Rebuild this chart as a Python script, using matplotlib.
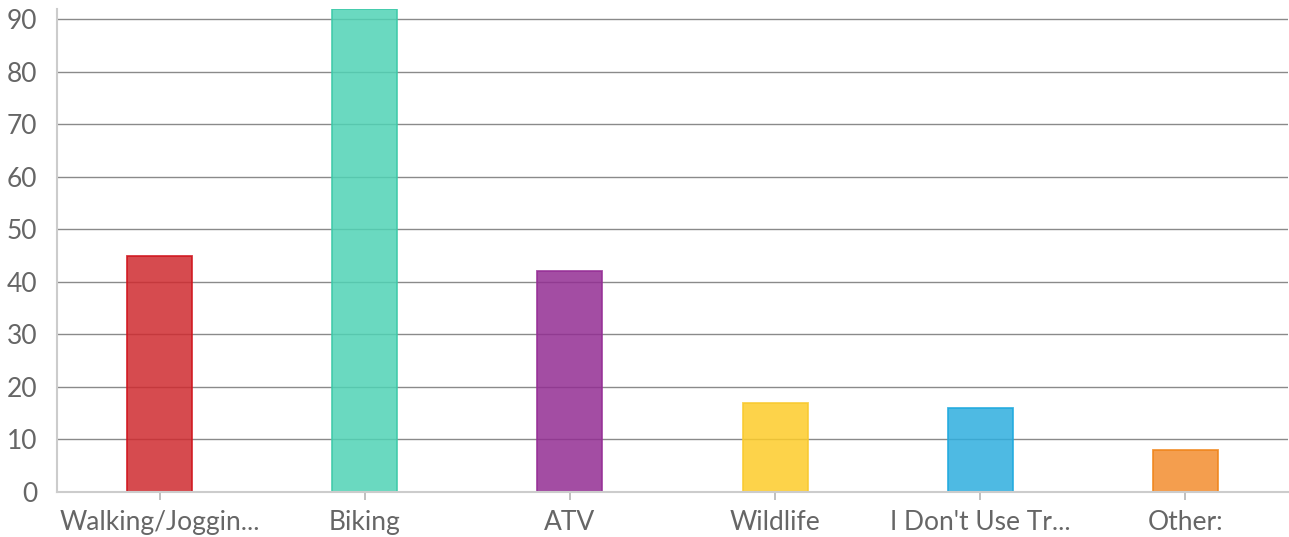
import matplotlib.pyplot as plt
import numpy as np

categories = ["Walking/Joggin...", "Biking", "ATV", "Wildlife", "I Don't Use Tr...", "Other:"]
counts = [45, 92, 42, 17, 16, 8]
yticks = [0, 10, 20, 30, 40, 50, 60, 70, 80, 90]

# fill / outline pairs per bar
fills = ["#cf2b30", "#50d3b5", "#932e93", "#fdcc2a", "#2faede", "#f38d2f"]
edges = ["#d0121b", "#3cc9a8", "#952d95", "#f9c92e", "#1da9de", "#f08418"]

plt.rcParams["font.family"] = ["Lato", "DejaVu Sans"]

fig = plt.figure(figsize=(12.89, 5.37), dpi=100)
ax = fig.add_axes([57 / 1289, 45 / 537, 1231 / 1289, 483.5 / 537])

x = np.arange(len(categories))
ax.bar(x, counts, width=0.317, color=fills, alpha=0.85,
       edgecolor=edges, linewidth=1.3, zorder=3)

ax.set_xlim(-0.5, len(categories) - 0.5)
ax.set_ylim(0, 92)
ax.set_yticks(yticks)
ax.set_xticks(x)
ax.set_xticklabels(categories)

ax.yaxis.grid(True, color="#8a8a8a", linewidth=1.0, zorder=0)
ax.set_axisbelow(True)

for side in ["top", "right"]:
    ax.spines[side].set_visible(False)
for side in ["left", "bottom"]:
    ax.spines[side].set_color("#cccccc")
    ax.spines[side].set_linewidth(1.5)
    ax.spines[side].set_zorder(4)

ax.tick_params(axis="y", length=0, pad=14, labelsize=19, labelcolor="#666666")
ax.tick_params(axis="x", length=6, width=1.3, color="#bbbbbb", pad=7,
               labelsize=19, labelcolor="#666666")

fig.savefig("out.png", dpi=100)
